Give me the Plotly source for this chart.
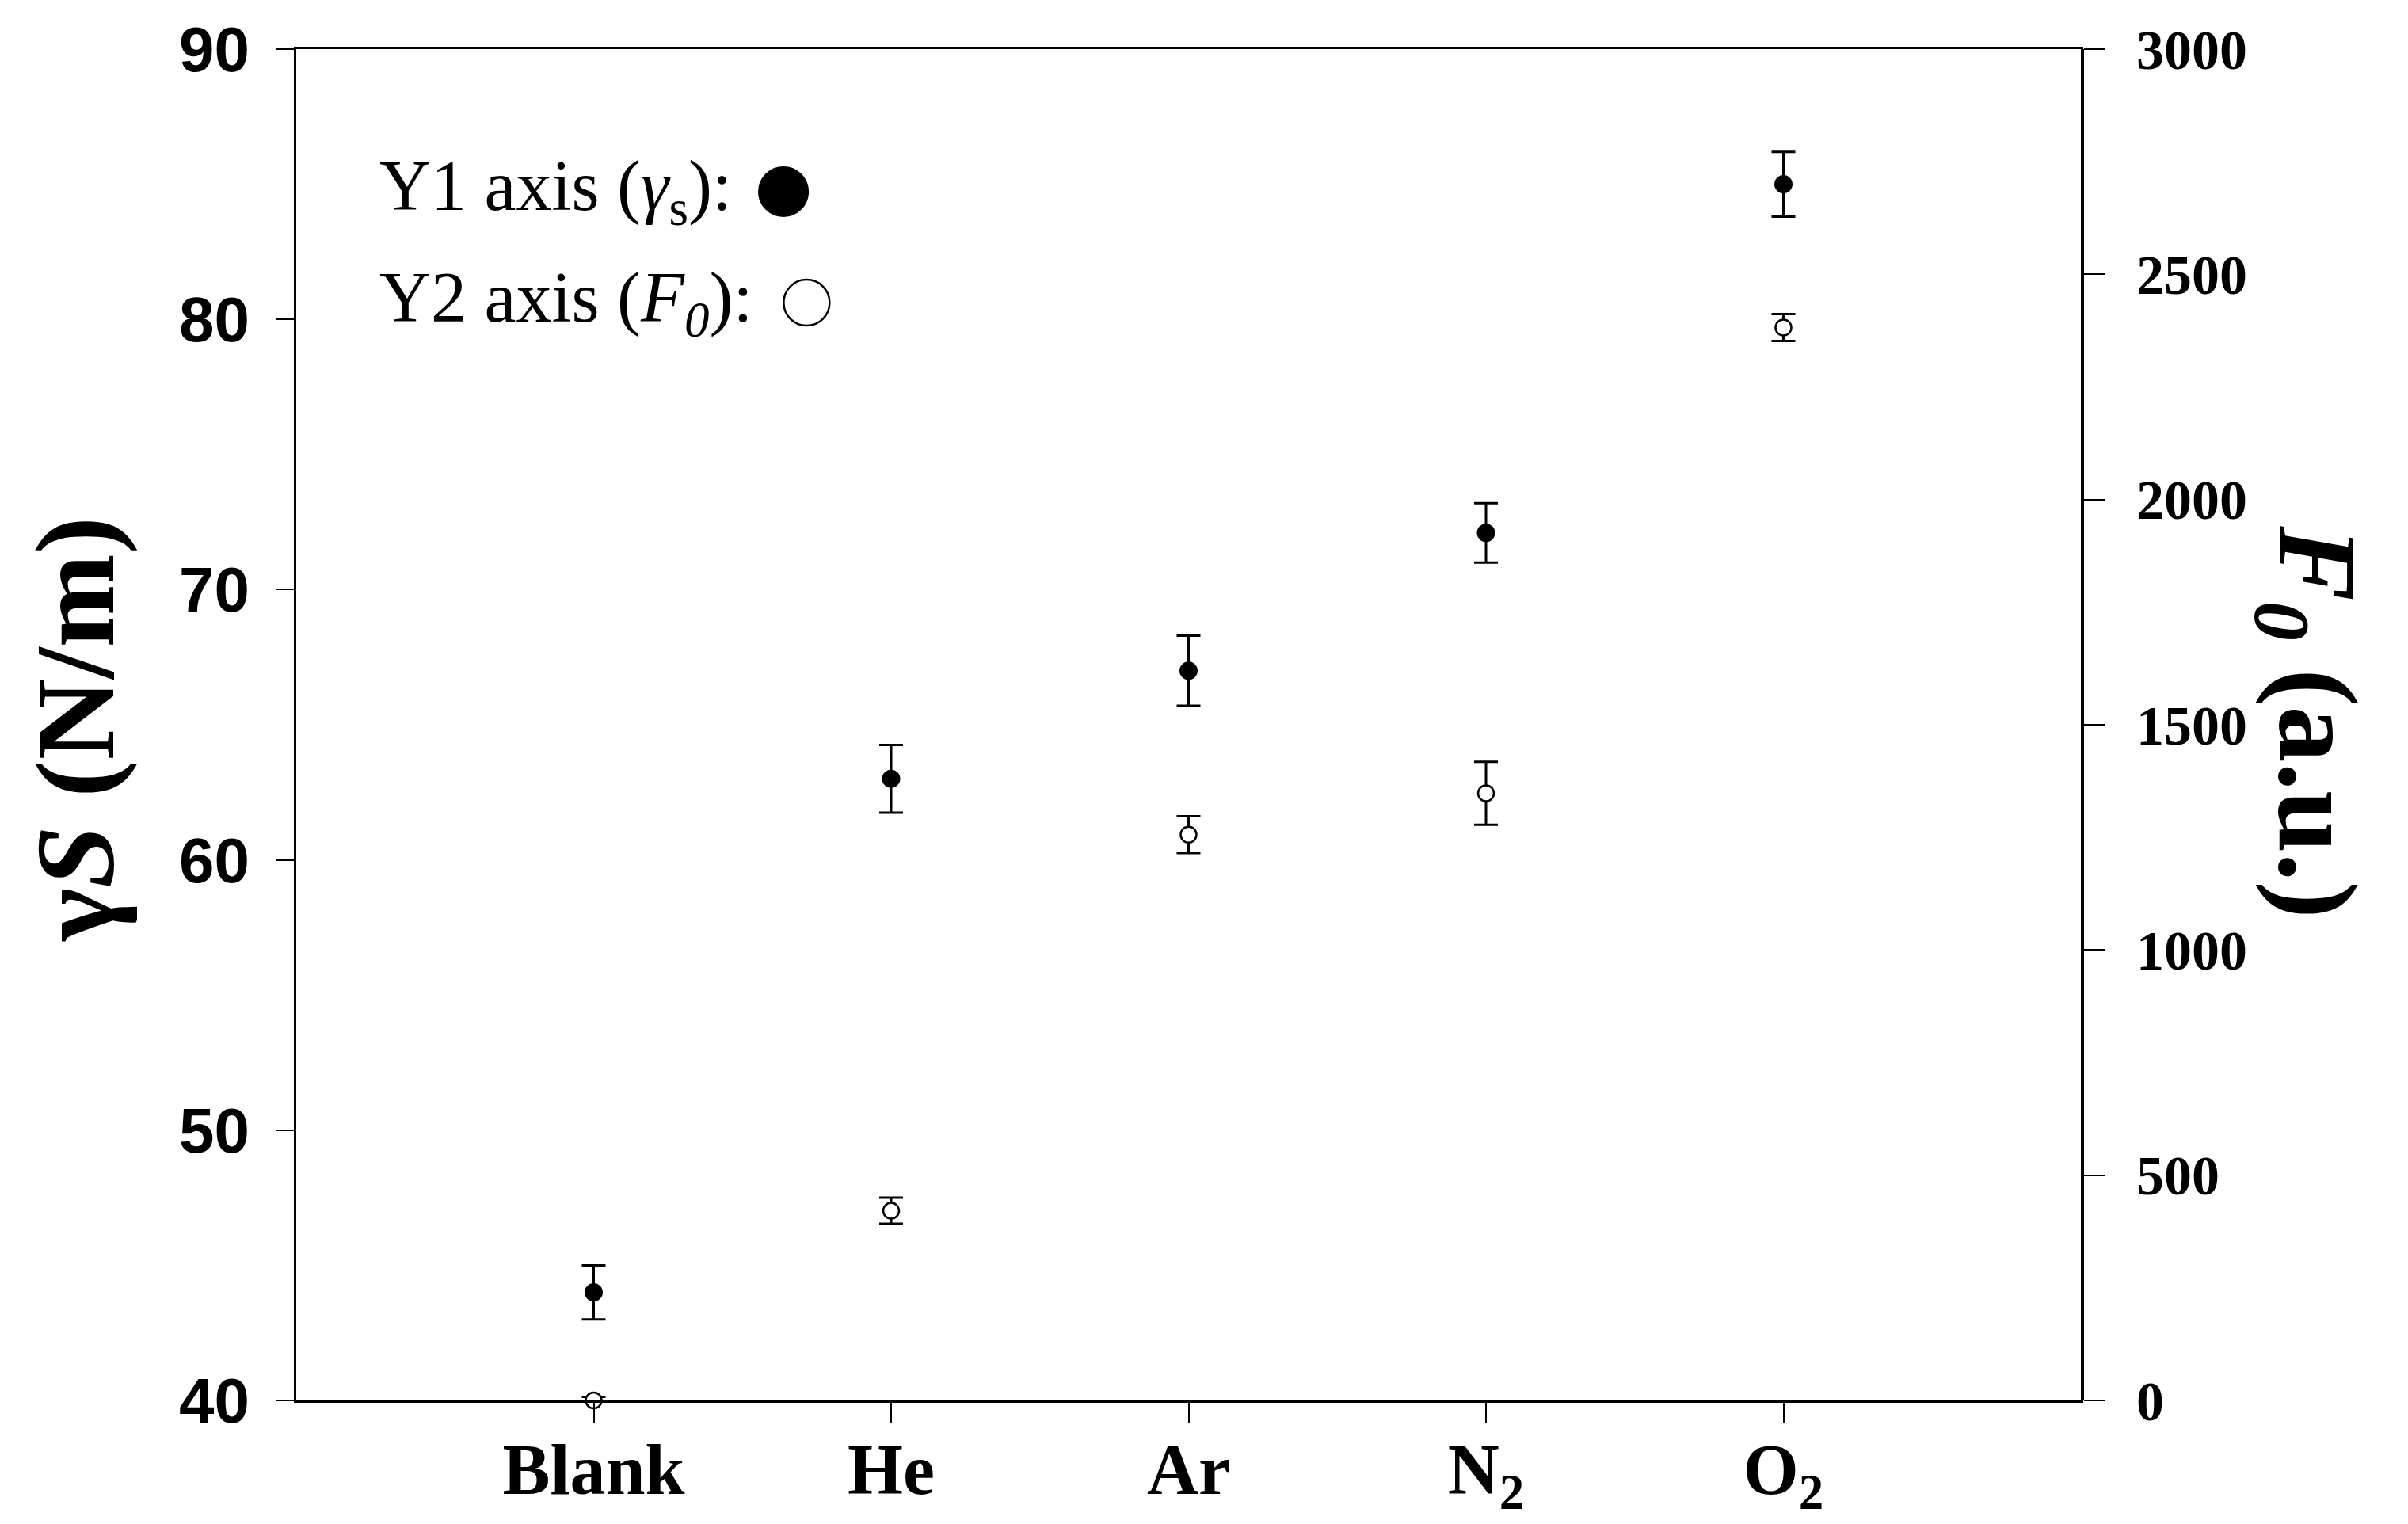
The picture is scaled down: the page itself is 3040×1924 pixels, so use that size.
import plotly.graph_objects as go

# data
gases = ["Blank", "He", "Ar", "N2", "O2"]
gas_labels = ["Blank", "He", "Ar", "N<sub>2</sub>", "O<sub>2</sub>"]

gamma_s = [44.0, 63.0, 67.0, 72.1, 85.0]        # N/m, left axis
gamma_s_err = [1.0, 1.25, 1.3, 1.1, 1.2]

f0 = [0, 421, 1256, 1348, 2382]                 # a.u., right axis
f0_err = [8, 29, 41, 70, 30]

y1_ticks = [40, 50, 60, 70, 80, 90]
y2_ticks = [0, 500, 1000, 1500, 2000, 2500, 3000]

serif = "Liberation Serif, Times New Roman, serif"
sans = "Liberation Sans, Arial, sans-serif"

fig = go.Figure()

fig.add_trace(go.Scatter(
    x=gases, y=gamma_s, mode="markers", yaxis="y", cliponaxis=False,
    marker=dict(symbol="circle", size=23, color="black"),
    error_y=dict(type="data", array=gamma_s_err, color="black", thickness=3, width=15),
    showlegend=False,
))

fig.add_trace(go.Scatter(
    x=gases, y=f0, mode="markers", yaxis="y2", cliponaxis=False,
    marker=dict(symbol="circle", size=20, color="white", line=dict(color="black", width=2.5)),
    error_y=dict(type="data", array=f0_err, color="black", thickness=3, width=15),
    showlegend=False,
))

# page body adds 8px, so margins are pulled in by that much
fig.update_layout(
    width=3040, height=1924,
    margin=dict(l=366, r=421, t=54, b=164, autoexpand=False),
    paper_bgcolor="white", plot_bgcolor="white",
    xaxis=dict(
        type="category", categoryorder="array", categoryarray=gases,
        tickvals=gases, ticktext=gas_labels, range=[-1, 5], automargin=False,
        showline=True, linecolor="black", linewidth=3, mirror=True,
        ticks="outside", ticklen=25, tickwidth=2, tickcolor="black",
        showgrid=False, zeroline=False, ticklabelstandoff=-18,
        tickfont=dict(family=serif, size=90, color="black", weight="bold"),
    ),
    yaxis=dict(
        range=[40, 90], tickvals=y1_ticks, automargin=False,
        showline=True, linecolor="black", linewidth=3, mirror=True,
        ticks="outside", ticklen=22, tickwidth=2, tickcolor="black",
        showgrid=False, zeroline=False, ticklabelstandoff=18,
        tickfont=dict(family=sans, size=80, color="black", weight="bold"),
    ),
    yaxis2=dict(
        range=[0, 3000], tickvals=y2_ticks, overlaying="y", side="right",
        automargin=False,
        showline=True, linecolor="black", linewidth=4,
        ticks="outside", ticklen=26, tickwidth=2, tickcolor="black",
        showgrid=False, zeroline=False, ticklabelstandoff=26,
        tickfont=dict(family=serif, size=70, color="black", weight="bold"),
    ),
)

# axis titles
fig.add_annotation(
    x=-0.124, y=0.497, xref="paper", yref="paper", showarrow=False,
    xanchor="center", yanchor="middle",
    text="<b>γ<i>S</i> (N/m)</b>", textangle=-90,
    font=dict(family=serif, size=142, color="black"),
)
fig.add_annotation(
    x=1.128, y=0.502, xref="paper", yref="paper", showarrow=False,
    xanchor="center", yanchor="middle",
    text="<b><i>F<sub>0</sub></i> (a.u.)</b>", textangle=90,
    font=dict(family=serif, size=142, color="black"),
)

# hand-drawn legend, markers to the right of the text
fig.add_annotation(
    x=0.0457, y=0.8945, xref="paper", yref="paper", showarrow=False,
    xanchor="left", yanchor="middle",
    text="Y1 axis (<i>γ</i><sub>s</sub>):",
    font=dict(family=serif, size=90, color="black"),
)
fig.add_annotation(
    x=0.0457, y=0.8124, xref="paper", yref="paper", showarrow=False,
    xanchor="left", yanchor="middle",
    text="Y2 axis (<i>F<sub>0</sub></i>):",
    font=dict(family=serif, size=90, color="black"),
)
fig.add_shape(
    type="circle", xref="paper", yref="paper",
    xsizemode="pixel", ysizemode="pixel", xanchor=0.273, yanchor=0.8945,
    x0=-31, x1=31, y0=-31, y1=31,
    fillcolor="black", line=dict(color="black", width=2),
)
fig.add_shape(
    type="circle", xref="paper", yref="paper",
    xsizemode="pixel", ysizemode="pixel", xanchor=0.286, yanchor=0.8124,
    x0=-29, x1=29, y0=-29, y1=29,
    fillcolor="white", line=dict(color="black", width=2.5),
)

fig.write_html("out.html")
